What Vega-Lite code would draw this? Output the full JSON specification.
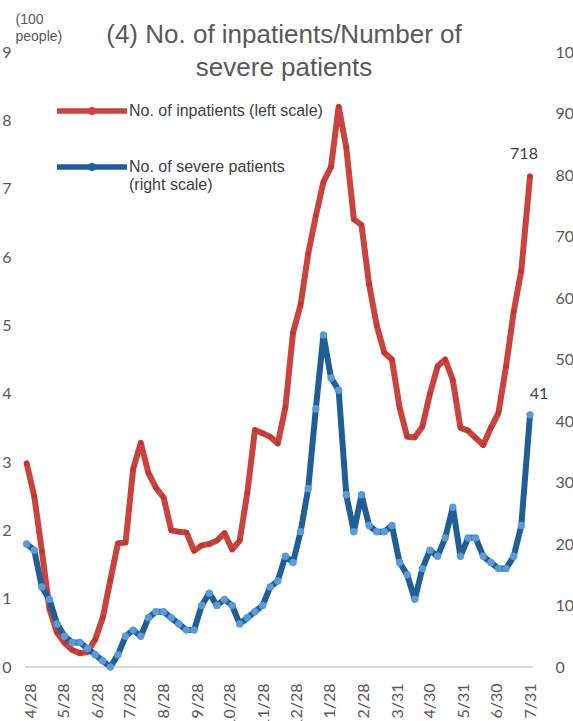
{
  "$schema": "https://vega.github.io/schema/vega-lite/v6.json",
  "width": 508,
  "height": 615,
  "autosize": {"type": "none"},
  "padding": {"left": 25, "top": 52, "right": 40, "bottom": 54},
  "background": "white",
  "config": {
    "view": {"stroke": null},
    "font": "Liberation Sans",
    "axis": {"labelOverlap": false},
    "axisX": {"labelOverlap": false, "labelFlush": false, "labelBound": false, "tickCount": 30}
  },
  "title": {
    "text": ["(4) No. of inpatients/Number of", "severe patients"],
    "anchor": "middle",
    "font": "Liberation Sans",
    "fontSize": 26,
    "fontWeight": "normal",
    "color": "#595959",
    "lineHeight": 33,
    "offset": 0,
    "dx": 5,
    "dy": 90,
    "baseline": "alphabetic"
  },
  "data": {
    "values": [
      {"date": "2020-04-24T00:00:00", "inpatients": 298, "severe": 20},
      {"date": "2020-05-01T00:00:00", "inpatients": 250, "severe": 19},
      {"date": "2020-05-08T00:00:00", "inpatients": 170, "severe": 13},
      {"date": "2020-05-15T00:00:00", "inpatients": 85, "severe": 11},
      {"date": "2020-05-22T00:00:00", "inpatients": 50, "severe": 7},
      {"date": "2020-05-29T00:00:00", "inpatients": 35, "severe": 5},
      {"date": "2020-06-05T00:00:00", "inpatients": 25, "severe": 4},
      {"date": "2020-06-12T00:00:00", "inpatients": 20, "severe": 4},
      {"date": "2020-06-19T00:00:00", "inpatients": 22, "severe": 3},
      {"date": "2020-06-26T00:00:00", "inpatients": 40, "severe": 2},
      {"date": "2020-07-03T00:00:00", "inpatients": 72, "severe": 1},
      {"date": "2020-07-10T00:00:00", "inpatients": 127, "severe": 0},
      {"date": "2020-07-17T00:00:00", "inpatients": 181, "severe": 2},
      {"date": "2020-07-24T00:00:00", "inpatients": 182, "severe": 5},
      {"date": "2020-07-31T00:00:00", "inpatients": 290, "severe": 6},
      {"date": "2020-08-07T00:00:00", "inpatients": 328, "severe": 5},
      {"date": "2020-08-14T00:00:00", "inpatients": 284, "severe": 8},
      {"date": "2020-08-21T00:00:00", "inpatients": 262, "severe": 9},
      {"date": "2020-08-28T00:00:00", "inpatients": 248, "severe": 9},
      {"date": "2020-09-04T00:00:00", "inpatients": 200, "severe": 8},
      {"date": "2020-09-11T00:00:00", "inpatients": 198, "severe": 7},
      {"date": "2020-09-18T00:00:00", "inpatients": 197, "severe": 6},
      {"date": "2020-09-25T00:00:00", "inpatients": 170, "severe": 6},
      {"date": "2020-10-02T00:00:00", "inpatients": 178, "severe": 10},
      {"date": "2020-10-09T00:00:00", "inpatients": 180, "severe": 12},
      {"date": "2020-10-16T00:00:00", "inpatients": 185, "severe": 10},
      {"date": "2020-10-23T00:00:00", "inpatients": 196, "severe": 11},
      {"date": "2020-10-30T00:00:00", "inpatients": 172, "severe": 10},
      {"date": "2020-11-06T00:00:00", "inpatients": 185, "severe": 7},
      {"date": "2020-11-13T00:00:00", "inpatients": 255, "severe": 8},
      {"date": "2020-11-20T00:00:00", "inpatients": 347, "severe": 9},
      {"date": "2020-11-27T00:00:00", "inpatients": 342, "severe": 10},
      {"date": "2020-12-04T00:00:00", "inpatients": 337, "severe": 13},
      {"date": "2020-12-11T00:00:00", "inpatients": 327, "severe": 14},
      {"date": "2020-12-18T00:00:00", "inpatients": 380, "severe": 18},
      {"date": "2020-12-25T00:00:00", "inpatients": 489, "severe": 17},
      {"date": "2021-01-01T00:00:00", "inpatients": 530, "severe": 22},
      {"date": "2021-01-08T00:00:00", "inpatients": 605, "severe": 29},
      {"date": "2021-01-15T00:00:00", "inpatients": 660, "severe": 42},
      {"date": "2021-01-22T00:00:00", "inpatients": 710, "severe": 54},
      {"date": "2021-01-29T00:00:00", "inpatients": 732, "severe": 47},
      {"date": "2021-02-05T00:00:00", "inpatients": 820, "severe": 45},
      {"date": "2021-02-12T00:00:00", "inpatients": 760, "severe": 28},
      {"date": "2021-02-19T00:00:00", "inpatients": 655, "severe": 22},
      {"date": "2021-02-26T00:00:00", "inpatients": 647, "severe": 28},
      {"date": "2021-03-05T00:00:00", "inpatients": 560, "severe": 23},
      {"date": "2021-03-12T00:00:00", "inpatients": 500, "severe": 22},
      {"date": "2021-03-19T00:00:00", "inpatients": 460, "severe": 22},
      {"date": "2021-03-26T00:00:00", "inpatients": 450, "severe": 23},
      {"date": "2021-04-02T00:00:00", "inpatients": 380, "severe": 17},
      {"date": "2021-04-09T00:00:00", "inpatients": 337, "severe": 15},
      {"date": "2021-04-16T00:00:00", "inpatients": 336, "severe": 11},
      {"date": "2021-04-23T00:00:00", "inpatients": 352, "severe": 16},
      {"date": "2021-04-30T00:00:00", "inpatients": 400, "severe": 19},
      {"date": "2021-05-07T00:00:00", "inpatients": 440, "severe": 18},
      {"date": "2021-05-14T00:00:00", "inpatients": 450, "severe": 21},
      {"date": "2021-05-21T00:00:00", "inpatients": 420, "severe": 26},
      {"date": "2021-05-28T00:00:00", "inpatients": 350, "severe": 18},
      {"date": "2021-06-04T00:00:00", "inpatients": 346, "severe": 21},
      {"date": "2021-06-11T00:00:00", "inpatients": 335, "severe": 21},
      {"date": "2021-06-18T00:00:00", "inpatients": 325, "severe": 18},
      {"date": "2021-06-25T00:00:00", "inpatients": 350, "severe": 17},
      {"date": "2021-07-02T00:00:00", "inpatients": 372, "severe": 16},
      {"date": "2021-07-09T00:00:00", "inpatients": 440, "severe": 16},
      {"date": "2021-07-16T00:00:00", "inpatients": 520, "severe": 18},
      {"date": "2021-07-23T00:00:00", "inpatients": 580, "severe": 23},
      {"date": "2021-07-31T00:00:00", "inpatients": 718, "severe": 41}
    ]
  },
  "layer": [
    {
      "layer": [
        {
          "mark": {"type": "rule", "color": "#d9d9d9", "strokeWidth": 1.5},
          "encoding": {
            "y": {"datum": 0, "type": "quantitative"}
          }
        },
        {
          "mark": {"type": "line", "strokeWidth": 6, "strokeJoin": "round", "strokeCap": "round"},
          "encoding": {
            "x": {
              "field": "date",
              "type": "temporal",
              "scale": {"domain": [{"year": 2020, "month": 4, "date": 22, "hours": 12}, {"year": 2021, "month": 8, "date": 2, "hours": 18}]},
              "axis": {
                "values": [
                  {"year": 2020, "month": 4, "date": 28},
                  {"year": 2020, "month": 5, "date": 28},
                  {"year": 2020, "month": 6, "date": 28},
                  {"year": 2020, "month": 7, "date": 28},
                  {"year": 2020, "month": 8, "date": 28},
                  {"year": 2020, "month": 9, "date": 28},
                  {"year": 2020, "month": 10, "date": 28},
                  {"year": 2020, "month": 11, "date": 28},
                  {"year": 2020, "month": 12, "date": 28},
                  {"year": 2021, "month": 1, "date": 28},
                  {"year": 2021, "month": 2, "date": 28},
                  {"year": 2021, "month": 3, "date": 31},
                  {"year": 2021, "month": 4, "date": 30},
                  {"year": 2021, "month": 5, "date": 31},
                  {"year": 2021, "month": 6, "date": 30},
                  {"year": 2021, "month": 7, "date": 31}
                ],
                "tickCount": 30,
                "format": "%-m/%-d",
                "labelAngle": -90,
                "labelFont": "Lato",
                "labelFontSize": 16,
                "labelColor": "#595959",
                "labelPadding": 16,
                "labelFlush": false,
                "labelOverlap": false,
                "labelBound": false,
                "ticks": false,
                "tickSize": 0,
                "domain": false,
                "grid": false,
                "title": null
              }
            },
            "y": {
              "field": "inpatients",
              "type": "quantitative",
              "scale": {"domain": [0, 900], "nice": false},
              "axis": {
                "orient": "left",
                "values": [0, 100, 200, 300, 400, 500, 600, 700, 800, 900],
                "labelExpr": "datum.value / 100",
                "labelFont": "Lato",
                "labelFontSize": 16,
                "labelColor": "#595959",
                "labelPadding": 14,
                "ticks": false,
                "tickSize": 0,
                "domain": false,
                "grid": false,
                "title": ["(100", "people)"],
                "titleAngle": 0,
                "titleAlign": "left",
                "titleBaseline": "alphabetic",
                "titleX": -10,
                "titleY": -29,
                "titleFont": "Liberation Sans",
                "titleFontSize": 14,
                "titleFontWeight": "normal",
                "titleColor": "#595959",
                "titleLineHeight": 17
              }
            },
            "stroke": {
              "datum": "No. of inpatients (left scale)",
              "scale": {
                "domain": ["No. of inpatients (left scale)", "No. of severe patients (right scale)"],
                "range": ["#C9443F", "#225E96"]
              },
              "legend": {
                "orient": "none",
                "legendX": 32,
                "legendY": 36,
                "title": null,
                "padding": 0,
                "symbolType": "M-1,-0.02L1,-0.02L1,0.02L-1,0.02Z M0.06,0A0.06,0.06,0,1,1,-0.06,0A0.06,0.06,0,1,1,0.06,0Z",
                "symbolSize": 4356,
                "symbolStrokeWidth": 4,
                "clipHeight": 46,
                "rowPadding": 10,
                "labelOffset": 2,
                "labelFont": "Liberation Sans",
                "labelFontSize": 16,
                "labelColor": "#404040",
                "labelLimit": 400,
                "labelExpr": "datum.label == 'No. of severe patients (right scale)' ? ['No. of severe patients', '(right scale)'] : datum.label"
              }
            }
          }
        },
        {
          "mark": {"type": "point", "filled": true, "size": 25, "color": "#B83A35", "opacity": 1},
          "encoding": {
            "x": {"field": "date", "type": "temporal"},
            "y": {"field": "inpatients", "type": "quantitative"}
          }
        },
        {
          "transform": [{"filter": "datum.inpatients === 718"}],
          "mark": {"type": "text", "dx": -6, "dy": -22, "font": "Lato", "fontSize": 16, "color": "#404040"},
          "encoding": {
            "x": {"field": "date", "type": "temporal"},
            "y": {"field": "inpatients", "type": "quantitative"},
            "text": {"field": "inpatients", "type": "quantitative"}
          }
        }
      ]
    },
    {
      "layer": [
        {
          "mark": {"type": "line", "strokeWidth": 6, "strokeJoin": "round", "strokeCap": "round"},
          "encoding": {
            "x": {"field": "date", "type": "temporal", "axis": {"labelOverlap": false, "labelFlush": false, "tickCount": 30}},
            "y": {
              "field": "severe",
              "type": "quantitative",
              "scale": {"domain": [0, 100], "nice": false},
              "axis": {
                "orient": "right",
                "values": [0, 10, 20, 30, 40, 50, 60, 70, 80, 90, 100],
                "labelFont": "Lato",
                "labelFontSize": 16,
                "labelColor": "#595959",
                "labelPadding": 22,
                "ticks": false,
                "tickSize": 0,
                "domain": false,
                "grid": false,
                "title": null
              }
            },
            "stroke": {"datum": "No. of severe patients (right scale)"}
          }
        },
        {
          "mark": {"type": "point", "filled": true, "size": 55, "color": "#5B9BD5", "opacity": 1},
          "encoding": {
            "x": {"field": "date", "type": "temporal"},
            "y": {"field": "severe", "type": "quantitative"}
          }
        },
        {
          "transform": [{"filter": "datum.severe === 41"}],
          "mark": {"type": "text", "dx": 9, "dy": -21, "font": "Lato", "fontSize": 16, "color": "#404040"},
          "encoding": {
            "x": {"field": "date", "type": "temporal"},
            "y": {"field": "severe", "type": "quantitative"},
            "text": {"field": "severe", "type": "quantitative"}
          }
        }
      ]
    }
  ],
  "resolve": {"scale": {"y": "independent"}}
}
